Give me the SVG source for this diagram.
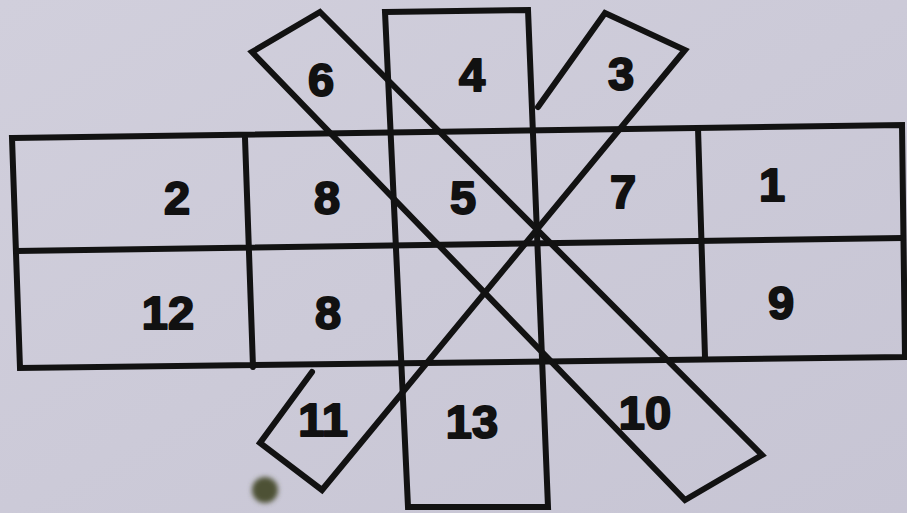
<svg xmlns="http://www.w3.org/2000/svg" width="907" height="513" viewBox="0 0 907 513">
  <defs>
    <style>
      .ln { fill: none; stroke: #121212; stroke-width: 6; stroke-linejoin: miter; stroke-linecap: round; }
      .num { font-family: "Liberation Sans", Arial, sans-serif; font-weight: bold; font-size: 47px; fill: #111; stroke: #111; stroke-width: 2; stroke-linejoin: round; text-anchor: middle; }
    </style>
    <linearGradient id="bg" x1="0" y1="0" x2="1" y2="1">
      <stop offset="0" stop-color="#d1cfdc"/>
      <stop offset="1" stop-color="#c7c5d4"/>
    </linearGradient>
    <filter id="soft" x="-50%" y="-50%" width="200%" height="200%">
      <feGaussianBlur stdDeviation="2.5"/>
    </filter>
  </defs>
  <rect x="0" y="0" width="907" height="513" fill="url(#bg)"/>

  <g id="connectors">
    <!-- main rectangle grid -->
    <polygon class="ln" points="12,138 902,125 905,357 20,368"/>
    <line class="ln" x1="16" y1="251" x2="903" y2="238"/>
    <line class="ln" x1="245" y1="138" x2="253" y2="367"/>
    <line class="ln" x1="698" y1="128" x2="705" y2="357"/>
  </g>

  <g id="strip-vertical">
    <polygon class="ln" points="385,12 528,10 548,507 408,507"/>
  </g>

  <g id="strip-diagonal-a">
    <polygon class="ln" points="320,12 762,455 685,500 252,52"/>
  </g>

  <g id="strip-diagonal-b">
    <polyline class="ln" points="538,107 605,13 685,50 322,490 260,443 312,372"/>
  </g>

  <circle cx="265" cy="490" r="13" fill="#4d5136" filter="url(#soft)"/>

  <g id="labels">
    <text class="num" x="321" y="96">6</text>
    <text class="num" x="472" y="91">4</text>
    <text class="num" x="621" y="90">3</text>
    <text class="num" x="177" y="214">2</text>
    <text class="num" x="327" y="214">8</text>
    <text class="num" x="463" y="214">5</text>
    <text class="num" x="623" y="208">7</text>
    <text class="num" x="772" y="201">1</text>
    <text class="num" x="168" y="329">12</text>
    <text class="num" x="328" y="329">8</text>
    <text class="num" x="781" y="319">9</text>
    <text class="num" x="323" y="436">11</text>
    <text class="num" x="472" y="438">13</text>
    <text class="num" x="645" y="429">10</text>
  </g>
</svg>
